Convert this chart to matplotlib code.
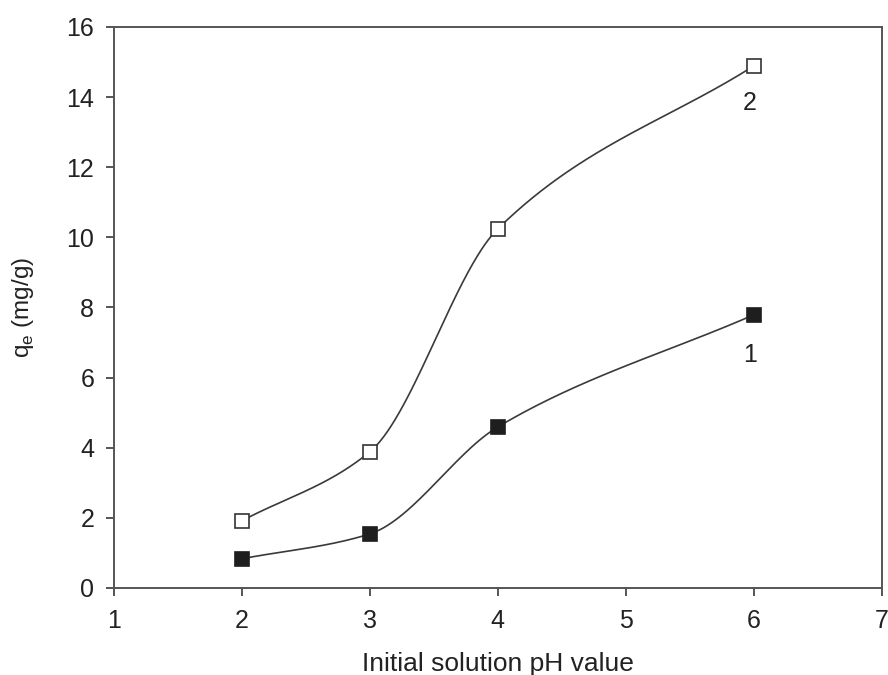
import matplotlib.pyplot as plt
import numpy as np

plt.rcParams['font.family'] = ['Liberation Sans', 'DejaVu Sans']

# data
ph = [2, 3, 4, 6]
qe_1 = [0.83, 1.54, 4.59, 7.79]    # filled squares
qe_2 = [1.91, 3.88, 10.24, 14.89]  # open squares


def pchip(x, y, xs):
    # monotone cubic (Fritsch-Carlson) for the smooth connecting line
    x = np.asarray(x, float)
    y = np.asarray(y, float)
    h = np.diff(x)
    d = np.diff(y) / h
    m = np.zeros_like(y)
    for k in range(1, len(x) - 1):
        if d[k - 1] * d[k] > 0:
            w1 = 2 * h[k] + h[k - 1]
            w2 = h[k] + 2 * h[k - 1]
            m[k] = (w1 + w2) / (w1 / d[k - 1] + w2 / d[k])
    m[0] = d[0]
    m[-1] = d[-1]
    out = np.empty_like(xs)
    for i, xv in enumerate(xs):
        k = min(np.searchsorted(x, xv, side='right') - 1, len(x) - 2)
        t = (xv - x[k]) / h[k]
        h00 = 2 * t**3 - 3 * t**2 + 1
        h10 = t**3 - 2 * t**2 + t
        h01 = -2 * t**3 + 3 * t**2
        h11 = t**3 - t**2
        out[i] = h00 * y[k] + h10 * h[k] * m[k] + h01 * y[k + 1] + h11 * h[k] * m[k + 1]
    return out


fig = plt.figure(figsize=(8.88, 6.75), dpi=100)
ax = fig.add_axes([0.128, 0.129, 0.865, 0.831])

xs = np.linspace(ph[0], ph[-1], 300)
line_c = '#3a3a3a'
ax.plot(xs, pchip(ph, qe_1, xs), color=line_c, lw=1.2)
ax.plot(xs, pchip(ph, qe_2, xs), color=line_c, lw=1.2)
ax.plot(ph, qe_1, 's', ms=10.5, mfc='#1e1e1e', mec='#1e1e1e', mew=1.2)
ax.plot(ph, qe_2, 's', ms=10.5, mfc='white', mec='#333333', mew=1.2)

ax.text(5.97, 6.65, '1', fontsize=18, ha='center', va='center', color='#222222')
ax.text(5.97, 13.83, '2', fontsize=18, ha='center', va='center', color='#222222')

ax.set_xlim(1, 7)
ax.set_ylim(0, 16)
ax.set_xticks(range(1, 8))
ax.set_yticks(range(0, 17, 2))
ax.tick_params(direction='out', length=6, width=1.4, labelsize=18,
               color='#555555', labelcolor='#222222')
ax.tick_params(axis='x', pad=9)
ax.tick_params(axis='y', pad=8)
for s in ax.spines.values():
    s.set_color('#555555')
    s.set_linewidth(1.4)

ax.set_xlabel('Initial solution pH value', fontsize=19, color='#222222', labelpad=14)
ax.set_ylabel(r'q$_\mathregular{e}$ (mg/g)', fontsize=17.5, color='#222222', labelpad=22)

fig.savefig('out.png', dpi=100)
